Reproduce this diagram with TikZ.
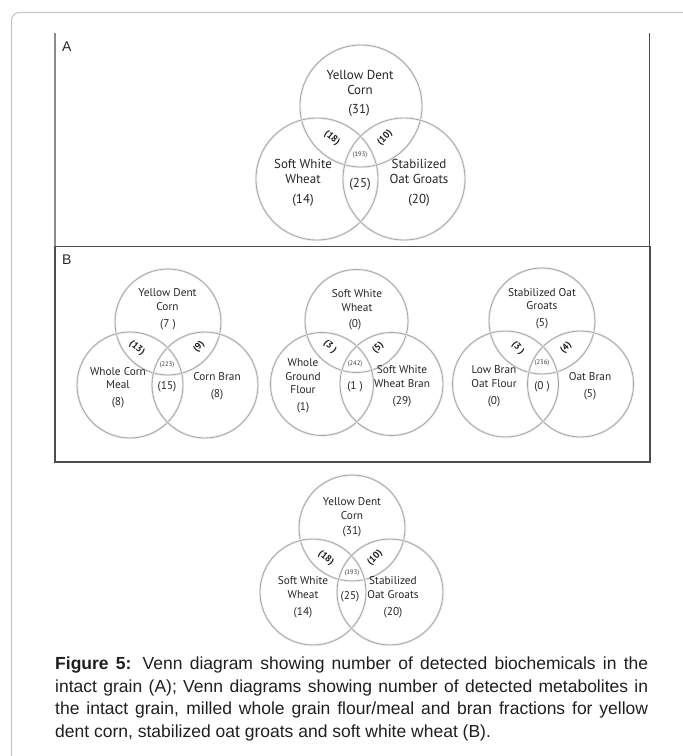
\documentclass[tikz,border=0pt]{standalone}
\usepackage{fontspec}
\setmainfont{Liberation Sans}
\newfontfamily\vennfont{PT Sans}
\usetikzlibrary{positioning}

\begin{document}
\begin{tikzpicture}[x=1pt, y=-1pt,
    ring/.style={draw=gray!70, line width=0.8pt, preaction={draw=gray!15, line width=2.4pt}},
    setname/.style={font=\vennfont\fontsize{11.3}{13.6}\selectfont, align=center, inner sep=0pt, text=black!85},
    bigname/.style={setname, font=\vennfont\fontsize{13}{15}\selectfont},
    pairval/.style={font=\vennfont\bfseries\fontsize{9.5}{10}\selectfont, inner sep=0pt, text=black!90},
    coreval/.style={font=\vennfont\fontsize{6.5}{7}\selectfont, inner sep=0pt, text=black!80},
    frame/.style={draw=gray!45, line width=1.1pt, rounded corners=8pt},
    panel/.style={draw=black!70, line width=1.1pt},
    tag/.style={font=\fontsize{14}{16}\selectfont, anchor=base west, inner sep=0pt, text=black!85},
    caption/.style={font=\fontsize{17.5}{22.4}\selectfont, text width=593pt, align=justify,
                    inner sep=0pt, anchor=north west, text=black!88},
]
    \useasboundingbox (0,0) rectangle (683,756);

    % page frame and panels
    \draw[frame] (11.5,756) -- (11.5,12.5) -- (683,12.5);
    \draw[panel, draw=black!45] (55,33) -- (55,246.5);
    \draw[panel] (649.5,33) -- (649.5,246.5);
    \draw[panel] (55,246.5) rectangle (650,462);
    \node[tag] (tagA) at (62,51) {A};
    \node[tag] (tagB) at (62,264) {B};

    % A: intact grains
    \draw[ring] (361,106) circle[radius=61pt];
    \draw[ring] (317,179) circle[radius=61pt];
    \draw[ring] (404,179) circle[radius=61pt];
    \node[bigname] (aTop)    at (360,82.5)  {Yellow Dent\\Corn};
    \node[bigname] (aTopN)   at (359,110)   {(31)};
    \node[bigname] (aLeft)   at (303,171.5) {Soft White\\Wheat};
    \node[bigname] (aLeftN)  at (303,200)   {(14)};
    \node[bigname] (aRight)  at (419,171.5) {Stabilized\\Oat Groats};
    \node[bigname] (aRightN) at (419,200)   {(20)};
    \node[pairval, rotate=-40] (aTL) at (332,138) {(18)};
    \node[pairval, rotate=45]  (aTR) at (385,138) {(10)};
    \node[coreval] (aCore) at (360,155) {(193)};
    \node[bigname] (aLow)  at (360,184) {(25)};

    % B: corn
    \draw[ring] (168,322) circle[radius=53pt];
    \draw[ring] (130,385) circle[radius=53pt];
    \draw[ring] (205,385) circle[radius=53pt];
    \node[setname] (cTop)    at (167.5,299.7) {Yellow Dent\\Corn};
    \node[setname] (cTopN)   at (168,325)     {(7 )};
    \node[setname] (cLeft)   at (118,378)     {Whole Corn\\Meal};
    \node[setname] (cLeftN)  at (118,403)     {(8)};
    \node[setname] (cRight)  at (217,377)     {Corn Bran};
    \node[setname] (cRightN) at (217,395)     {(8)};
    \node[pairval, rotate=-40] (cTL) at (137,348) {(13)};
    \node[pairval, rotate=50]  (cTR) at (199,347) {(9)};
    \node[coreval] (cCore) at (167,365) {(223)};
    \node[setname] (cLow)  at (167,387) {(15)};

    % B: wheat
    \draw[ring] (356.5,321) circle[radius=51.5pt];
    \draw[ring] (322,384) circle[radius=51.5pt];
    \draw[ring] (391.5,384) circle[radius=51.5pt];
    \node[setname] (wTop)    at (357,300.5)   {Soft White\\Wheat};
    \node[setname] (wTopN)   at (355,325)     {(0)};
    \node[setname] (wLeft)   at (303,376.5)   {Whole\\Ground\\Flour};
    \node[setname] (wLeftN)  at (303,408)     {(1)};
    \node[setname] (wRight)  at (402,376.5)   {Soft White\\Wheat Bran};
    \node[setname] (wRightN) at (402,402)     {(29)};
    \node[pairval, rotate=-45] (wTL) at (330,347) {(3 )};
    \node[pairval, rotate=45]  (wTR) at (378,348) {(5)};
    \node[coreval] (wCore) at (355,364) {(242)};
    \node[setname] (wLow)  at (355,387) {(1 )};

    % B: oats
    \draw[ring] (542,321) circle[radius=53pt];
    \draw[ring] (505.5,384) circle[radius=53pt];
    \draw[ring] (580.5,384) circle[radius=53pt];
    \node[setname] (oTop)    at (542,299)   {Stabilized Oat\\Groats};
    \node[setname] (oTopN)   at (542,324)   {(5)};
    \node[setname] (oLeft)   at (494,376.5) {Low Bran\\Oat Flour};
    \node[setname] (oLeftN)  at (494,402)   {(0)};
    \node[setname] (oRight)  at (590,377)   {Oat Bran};
    \node[setname] (oRightN) at (590,395)   {(5)};
    \node[pairval, rotate=-50] (oTL) at (518,348) {(3 )};
    \node[pairval, rotate=45]  (oTR) at (566,348) {(4)};
    \node[coreval] (oCore) at (542,363) {(236)};
    \node[setname] (oLow)  at (542,387) {(0 )};

    % repeat of A below the panels
    \draw[ring] (352,528) circle[radius=53pt];
    \draw[ring] (313,592) circle[radius=53pt];
    \draw[ring] (390,592) circle[radius=53pt];
    \node[setname] (rTop)    at (352,508.3) {Yellow Dent\\Corn};
    \node[setname] (rTopN)   at (352,531.7) {(31)};
    \node[setname] (rLeft)   at (303,587.8) {Soft White\\Wheat};
    \node[setname] (rLeftN)  at (303,612.7) {(14)};
    \node[setname] (rRight)  at (393,587.8) {Stabilized\\Oat Groats};
    \node[setname] (rRightN) at (393,612.7) {(20)};
    \node[pairval, rotate=-40] (rTL) at (326,558) {(18)};
    \node[pairval, rotate=45]  (rTR) at (375,558) {(10)};
    \node[coreval] (rCore) at (352,572.7) {(193)};
    \node[setname] (rLow)  at (350,596.7) {(25)};

    \node[caption] (cap) at (55,657) {\textbf{Figure 5:} Venn diagram showing number of detected biochemicals in the\linebreak
        intact grain (A); Venn diagrams showing number of detected metabolites in\linebreak
        the intact grain, milled whole grain flour/meal and bran fractions for yellow\linebreak
        dent corn, stabilized oat groats and soft white wheat (B).};
\end{tikzpicture}
\end{document}
